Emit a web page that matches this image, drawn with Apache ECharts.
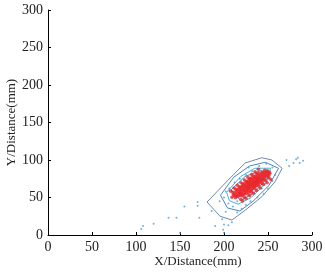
<!DOCTYPE html>
<html><head><meta charset="utf-8">
<script src="https://cdn.jsdelivr.net/npm/echarts@6/dist/echarts.min.js"></script>
<style>html,body{margin:0;padding:0;background:#fff}#c{width:325px;height:278px}</style>
</head><body><div id="c"></div>
<script>
const xTicks = [0, 50, 100, 150, 200, 250, 300];
const yTicks = [0, 50, 100, 150, 200, 250, 300];

const bluePoints = [
  [106,8],[108,12],[120,15],[137,23],[146,23],[155,38],[170,44],[170,39],[172,23],[150,3],
  [190,12],[200,14],[199,7],[200,3],[205,13],[198,21],[209,17],[186,32],[202,31],
  [271,100],[279,96],[282,101],[286,96],[290,99],[274,92],[284,103],
  [195,45],[200,50],[205,42],[210,38],[215,30],[220,35],[225,40],[230,45],[238,50],
  [245,55],[250,62],[255,72],[258,80],[255,90],[248,95],[240,92],[232,85],[225,80],
  [218,75],[212,70],[206,62],[202,58],[215,45],[222,48],[235,55],[243,62],[250,75],
  [238,88],[228,90],[245,85]
];

const redPoints = [
  [209,50.5],[213,49.6],[216,51.2],
  [211.3,52.4],[214.2,51.8],[218.1,52.6],[220.4,51.9],
  [210.6,54.1],[213.4,53.7],[217.2,54.5],[221.1,53.8],[223.3,54.6],
  [212.2,56.3],[215.6,55.8],[219.4,56.5],[222.1,55.6],[225.2,56.2],
  [214.1,58.4],[217.3,57.6],[220.2,58.7],[224.4,57.9],[227.1,58.3],[229.2,57.5],
  [215.4,60.2],[218.2,59.7],[222.3,60.5],[225.1,59.6],[228.4,60.4],[231.2,60.1],
  [217.1,62.3],[219.6,61.8],[223.2,62.6],[226.3,61.7],[229.1,62.4],[232.4,62.1],
  [219.2,64.1],[221.4,63.6],[224.3,64.5],[227.2,63.8],[230.1,64.6],[233.3,63.9],[235.2,64.3],
  [221.3,66.2],[224.1,65.7],[227.4,66.4],[229.2,65.6],[232.3,66.5],[235.1,65.8],[237.4,66.2],
  [223.2,68.1],[226.3,67.6],[228.1,68.4],[231.4,67.7],[234.2,68.6],[236.1,67.9],[239.3,68.2],
  [225.1,70.3],[228.4,69.7],[231.2,70.5],[233.3,69.6],[236.4,70.4],[238.2,69.8],[241.1,70.2],
  [227.3,72.1],[230.2,71.6],[233.4,72.5],[236.1,71.7],[238.3,72.4],[241.2,71.9],[243.4,72.3],
  [229.2,74.2],[232.1,73.6],[235.3,74.5],[238.2,73.8],[240.4,74.3],[243.1,73.7],[245.2,74.1],
  [231.4,76.3],[234.2,75.7],[237.1,76.4],[240.3,75.6],[243.2,76.5],[246.1,75.9],
  [234.3,78.1],[237.2,77.6],[240.1,78.5],[243.4,77.7],[246.2,78.3],[249.1,77.9],
  [237.2,80.2],[240.4,79.7],[243.1,80.4],[246.3,79.6],[249.2,80.3],[251.1,79.8],
  [240.1,82.3],[243.3,81.7],[246.2,82.5],[249.4,81.8],[252.1,82.2],
  [243.2,84.1],[246.4,83.6],[249.1,84.4],[251.6,83.9],
  [246.3,86.2],[249.2,85.7],
  [226.5,63.2],[230.7,67.1],[234.8,71.3],[238.9,75.2],[222.6,59.3],[218.7,55.2],
  [207.2,58.6],[211.4,62.7],[215.1,66.3],[219.3,69.8],[223.2,73.4],[227.1,76.6],[231.3,80.8],[235.2,84.3],[239.1,87.6],
  [209.6,57.2],[213.3,61.1],[217.6,64.4],[221.4,68.2],[225.7,71.3],[229.4,75.2],[233.6,78.8],[237.3,82.3],
  [221.2,45.3],[225.1,48.7],[229.3,52.4],[233.2,55.6],[237.1,59.3],[241.3,62.6],[245.2,67.3],[249.1,69.8],[253.2,74.1],
  [219.1,47.4],[223.3,50.8],[227.2,54.3],[231.4,57.6],[235.1,61.7],[239.3,65.2],[243.2,68.6],[247.4,72.3],[251.1,76.2]
];

const contour1 = [[180.7,44],[204.5,73],[224,96],[243,103],[254.5,100],[266,89],[258,71],[243,51],[224,33],[209,20],[195.5,25],[180.7,44]];
const contour2 = [[196,53],[211,77],[229,92],[247,97],[262,89],[251,66],[233,45],[218,32],[204,36],[196,53]];
const contour3 = [[203,57],[219,78],[235,89],[253,89],[248,70],[231,50],[216,41],[206,46],[203,57]];
const contour4 = [[208,60],[224,78],[242,86],[250,77],[234,56],[219,46],[208,60]];

const contours = [contour1, contour2, contour3, contour4];
const contourColors = ['#6f8aa6', '#4a86c0', '#3cb6dc', '#2a90d0'];

const font = '"Liberation Serif", "Times New Roman", serif';
const chart = echarts.init(document.getElementById('c'), null, {renderer: 'canvas'});
const series = contours.map((c, i) => ({
  type: 'line', data: c, showSymbol: false, symbol: 'none', silent: true,
  lineStyle: {color: contourColors[i], width: 1}, z: 2
}));
series.push({type: 'scatter', data: bluePoints, symbolSize: 2, itemStyle: {color: '#4a9fd6'}, z: 3});
series.push({type: 'scatter', data: redPoints, symbolSize: 3.5, itemStyle: {color: '#e8262b'}, z: 4});

chart.setOption({
  animation: false,
  grid: {left: 48, right: 13, top: 10, bottom: 43, containLabel: false, outerBoundsMode: 'none'},
  xAxis: {
    type: 'value', min: xTicks[0], max: xTicks[xTicks.length-1], interval: 50,
    name: 'X/Distance(mm)', nameLocation: 'middle', nameGap: 20, nameMoveOverlap: false,
    nameTextStyle: {fontFamily: font, fontSize: 13, color: '#222', padding: [0,0,0,36]},
    axisLine: {lineStyle: {color: '#000', width: 1}},
    axisTick: {inside: true, length: 3, lineStyle: {color: '#000'}},
    axisLabel: {fontFamily: font, fontSize: 14, color: '#222', margin: 5},
    splitLine: {show: false}
  },
  yAxis: {
    type: 'value', min: yTicks[0], max: yTicks[yTicks.length-1], interval: 50,
    name: 'Y/Distance(mm)', nameLocation: 'middle', nameGap: 30, nameMoveOverlap: false,
    nameTextStyle: {fontFamily: font, fontSize: 13, color: '#222'},
    axisLine: {lineStyle: {color: '#000', width: 1}},
    axisTick: {inside: true, length: 3, lineStyle: {color: '#000'}},
    axisLabel: {fontFamily: font, fontSize: 14, color: '#222', margin: 5},
    splitLine: {show: false}
  },
  series: series
});
</script></body></html>
